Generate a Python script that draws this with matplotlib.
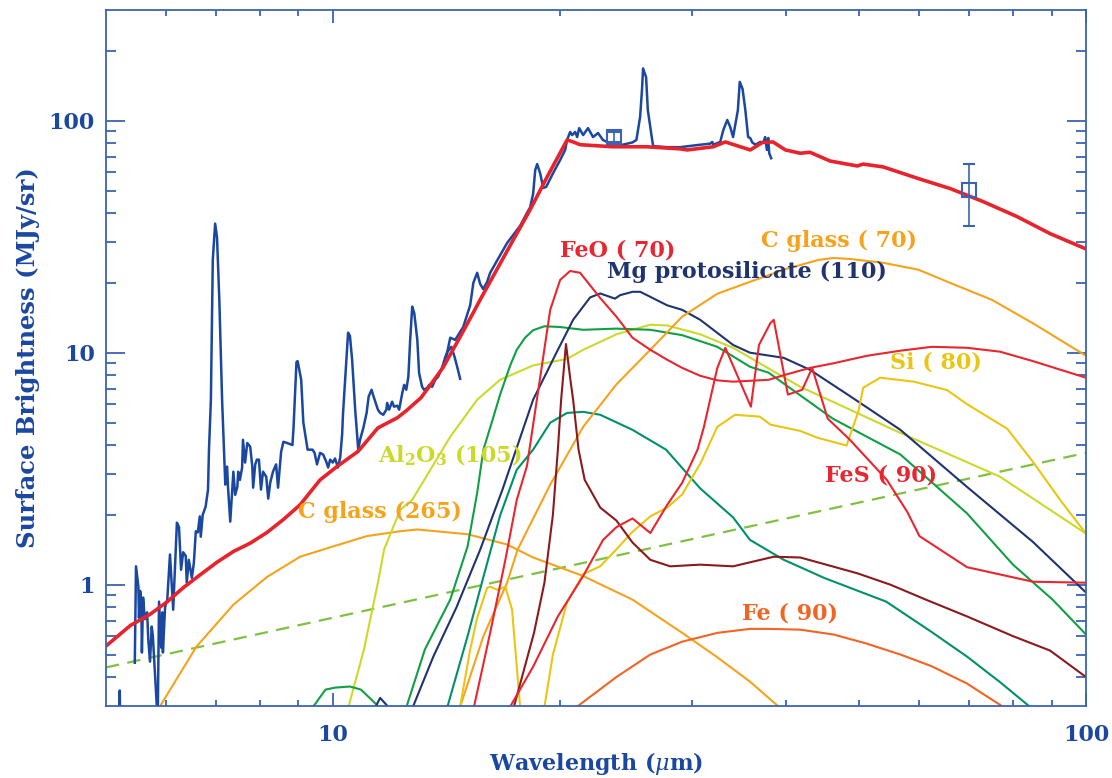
import matplotlib
matplotlib.use("Agg")
import matplotlib.pyplot as plt
from matplotlib.ticker import FixedLocator, NullFormatter, FuncFormatter

plt.rcParams['font.family'] = ['DejaVu Serif']
plt.rcParams['mathtext.fontset'] = 'dejavuserif'

# ---------------- data (wavelength in micron, surface brightness in MJy/sr) ----------------
# IRS spectrum, short-wavelength piece
irs_tick_wl = [5.21, 5.215, 5.22]
irs_tick_f = [0.25, 0.35, 0.25]
irs1_wl = [5.46, 5.48, 5.52, 5.53, 5.55, 5.57, 5.58, 5.60, 5.63, 5.67, 5.69, 5.72, 5.75, 5.77, 5.81,
           5.84, 5.85, 5.86, 5.88, 5.92, 5.94, 5.95, 5.99, 6.03, 6.08, 6.14, 6.18, 6.21, 6.25, 6.29,
           6.33, 6.38, 6.40, 6.44, 6.50, 6.54, 6.58, 6.62, 6.66, 6.68, 6.72, 6.78, 6.83, 6.85, 6.89,
           6.93, 6.98, 7.02, 7.07, 7.13, 7.20, 7.24, 7.26, 7.31, 7.35, 7.38, 7.42, 7.47, 7.49, 7.53,
           7.58, 7.60, 7.65, 7.70, 7.77, 7.82, 7.84, 7.89, 7.93, 7.98, 8.03, 8.08, 8.16, 8.21, 8.26,
           8.33, 8.41, 8.46, 8.54, 8.60, 8.70, 8.84, 8.87, 8.95, 8.98, 9.00, 9.08, 9.14, 9.26, 9.40,
           9.46, 9.53, 9.62, 9.71, 9.80, 9.86, 9.92, 10.0, 10.07, 10.16, 10.23, 10.29, 10.32, 10.42,
           10.48, 10.54, 10.61, 10.71, 10.81, 10.87, 10.98, 11.09, 11.16, 11.26, 11.33, 11.48, 11.56,
           11.67, 11.78, 11.81, 11.88, 11.99, 12.06, 12.18, 12.25, 12.37, 12.44, 12.52, 12.60, 12.67,
           12.75, 12.83, 12.95, 13.02, 13.14, 13.22, 13.35, 13.43, 13.55, 13.68, 13.80, 13.98, 14.11,
           14.20, 14.37, 14.51, 14.64, 14.76]
irs1_f = [0.461, 1.20, 0.98, 0.72, 0.94, 0.85, 0.51, 0.88, 0.71, 0.76, 0.58, 0.466, 0.66, 0.60, 0.40,
          0.30, 0.28, 0.31, 0.845, 0.535, 0.76, 0.51, 0.80, 0.862, 1.35, 0.78, 1.28, 1.85, 1.77, 1.16,
          1.38, 1.33, 1.02, 1.28, 1.07, 1.24, 1.70, 1.68, 1.97, 1.61, 2.0, 2.17, 2.57, 3.82, 6.27,
          25.1, 36.0, 31.5, 16.9, 6.27, 2.70, 3.23, 2.64, 1.87, 2.49, 3.07, 2.44, 2.64, 3.07, 2.83,
          3.20, 4.21, 3.36, 4.08, 3.93, 3.23, 2.62, 3.30, 3.46, 3.46, 2.57, 3.07, 2.92, 2.35, 2.75,
          3.07, 3.30, 2.62, 3.74, 4.13, 4.08, 4.0, 4.75, 9.1, 9.2, 8.9, 7.64, 5.0, 3.82, 3.82,
          3.70, 3.30, 3.70, 3.64, 3.40, 3.20, 3.46, 3.36, 3.50, 3.20, 3.53, 4.43, 5.50, 9.0,
          12.2, 11.8, 9.32, 5.68, 3.82, 4.21, 4.74, 5.5, 6.47, 6.92, 6.47, 5.68, 5.50,
          5.40, 5.68, 6.07, 5.68, 6.15, 5.85, 5.91, 5.68, 6.72, 7.27, 6.92, 7.87, 11.36,
          15.8, 14.8, 11.36, 8.18, 7.13, 6.92, 7.06, 7.27, 7.13, 7.64, 7.87, 8.7, 9.6,
          10.1, 10.6, 9.6, 8.6, 7.72]
# IRS spectrum, long-wavelength piece
irs2_wl = [14.15, 14.32, 14.54, 14.90, 15.22, 15.37, 15.55, 15.69, 15.84, 16.03, 16.18, 16.33, 16.68,
           17.04, 17.73, 18.11, 18.28, 18.45, 18.57, 18.68, 18.85, 19.03, 19.20, 19.61, 20.04, 20.35,
           20.47, 20.66, 20.79, 20.98, 21.11, 21.24, 21.50, 21.82, 22.16, 22.50, 22.84, 23.19, 23.54,
           23.90, 24.26, 25.0, 25.3, 25.59, 25.74, 25.82, 26.06, 26.2, 26.55, 26.63, 27.8, 28.93,
           30.75, 31.7, 31.9, 32.0, 32.69, 33.0, 33.4, 33.7, 34.0, 34.5, 34.7, 35.0, 35.3, 35.6,
           35.83, 36.05, 36.4, 36.94, 37.3, 37.5, 37.7, 37.85, 37.97, 38.2]
irs2_f = [9.6, 11.6, 11.36, 12.9, 16.0, 20.0, 22.1, 19.8, 18.8, 20.2, 22.1, 23.3, 26.3,
          29.7, 35.2, 40.1, 42.3, 48.3, 61.3, 65.0, 59.4, 51.3, 51.8, 59.4, 67.7, 74.8,
          82.6, 89.4, 86.7, 89.4, 85.0, 92.9, 86.7, 92.9, 85.0, 88.5, 82.6, 80.6, 78.8,
          78.8, 78.8, 80.6, 82.6, 104, 137, 168, 154, 111, 82.6, 77.7, 76.9, 76.9,
          78.8, 79.6, 81.0, 78.8, 81.0, 91.2, 100.7, 94.0, 85.0, 111, 147, 137, 111, 85.0,
          84.2, 80.6, 78.8, 81.0, 80.6, 85.0, 74.8, 84.2, 72.4, 68.9]

# photometry (MIPS 24 and 70 micron)
phot_wl = [23.6, 70.0]
phot_f = [85.0, 50.3]
phot_err = [4.0, 15.0]

# total model
total_wl = [5.02, 5.39, 5.72, 6.03, 6.33, 6.66, 7.02, 7.38, 7.77, 8.18, 8.60, 9.05, 9.62, 10.13, 10.81,
            11.48, 12.18, 12.52, 13.1, 14.0, 14.76, 15.37, 15.69, 17.36, 18.28, 19.25, 20.47, 20.85,
            21.3, 23.54, 26.1, 28.93, 29.55, 32.0, 33.2, 35.83, 37.2, 38.4, 39.9, 41.75, 43.0, 45.75,
            49.7, 50.6, 53.8, 59.9, 66.0, 72.9, 81.0, 89.6, 100]
total_f = [0.55, 0.668, 0.745, 0.845, 0.97, 1.10, 1.25, 1.39, 1.51, 1.68, 1.91, 2.21, 2.83, 3.23, 3.76,
           4.74, 5.24, 5.62, 6.4, 8.6, 11.7, 14.9, 16.9, 30.6, 41.3, 57.1, 82.6, 81.0,
           78.8, 77.2, 77.2, 75.6, 74.8, 77.2, 81.0, 74.8, 80.6, 81.0, 74.8, 72.4, 73.1, 67.0,
           63.8, 65.0, 63.2, 56.3, 51.0, 44.9, 38.6, 32.6, 28.0]

# power-law (dashed) component
pl_wl = [5.0, 100.0]
pl_f = [0.44, 3.7]

# dust components
cglass265_wl = [5.9, 6.59, 7.38, 8.18, 9.05, 10.0, 11.1, 12.29, 12.94, 15.1, 17.04, 18.45, 21.5, 25.0,
                29.1, 32.3, 35.8, 39.0]
cglass265_f = [0.30, 0.54, 0.82, 1.08, 1.32, 1.46, 1.62, 1.70, 1.73, 1.65, 1.49, 1.31, 1.09, 0.862,
               0.62, 0.49, 0.382, 0.30]

al2o3_wl = [10.5, 11.0, 11.48, 11.7, 12.29, 12.75, 14.32, 15.55, 16.68, 18.45, 20.47, 21.5, 23.8, 26.39,
            27.8, 30.75, 34.0, 41.75, 56.7, 76.9, 100]
al2o3_f = [0.30, 0.525, 1.02, 1.42, 2.10, 2.32, 4.34, 6.27, 7.64, 8.81, 9.4, 10.29, 12.0, 13.2,
           13.1, 12.0, 10.5, 7.13, 4.51, 2.92, 1.66]

green_wl = [9.42, 9.78, 10.07, 10.54, 10.9, 11.25, 11.48, 11.56, 12.3, 12.53, 13.25, 14.32, 15.1, 15.55,
            15.85, 16.3, 16.68, 17.2, 17.55, 18.0, 18.45, 19.1, 20.04, 21.5, 23.8, 26.4, 29.1, 32.4,
            35.8, 37.9, 46.1, 56.7, 69.5, 80.0, 90.3, 100]
green_f = [0.298, 0.353, 0.36, 0.364, 0.353, 0.32, 0.30, 0.26, 0.26, 0.298, 0.525, 0.862, 1.46, 2.49,
           3.82, 5.14, 6.6, 8.8, 10.29, 11.6, 12.5, 13.0, 12.9, 12.55, 12.7, 12.55, 11.9, 10.6,
           8.7, 8.2, 5.2, 3.64, 2.03, 1.22, 0.862, 0.61]

teal_wl = [14.2, 15.1, 15.85, 16.68, 17.55, 18.45, 19.44, 20.47, 21.5, 22.65, 25.0, 27.7, 30.75, 34.0,
           35.8, 39.7, 41.75, 44.9, 54.3, 62.4, 69.5, 76.9, 84.0]
teal_f = [0.298, 0.60, 1.08, 1.99, 3.13, 3.82, 4.99, 5.5, 5.56, 5.40, 4.65, 3.82, 2.6, 1.95,
          1.56, 1.28, 1.19, 1.07, 0.845, 0.625, 0.49, 0.38, 0.30]

mgproto_wl = [11.4, 11.56, 11.82, 12.1, 12.5, 12.78, 13.6, 14.6, 15.7, 16.8, 18.45, 19.9, 20.85, 21.96,
              22.65, 23.7, 24.07, 25.0, 25.6, 27.8, 29.1, 30.75, 34.0, 35.8, 39.7, 43.0, 48.6, 56.7,
              69.5, 85.0, 100]
mgproto_f = [0.298, 0.325, 0.30, 0.26, 0.26, 0.298, 0.49, 0.80, 1.42, 2.57, 6.27, 10.29, 13.86, 17.3,
             18.0, 17.1, 17.7, 18.3, 18.3, 16.0, 15.3, 13.86, 10.8, 10.0, 9.5, 8.44, 6.5, 4.65,
             2.64, 1.53, 0.925]

feo_wl = [15.4, 16.18, 16.95, 17.55, 18.11, 18.85, 19.44, 20.04, 20.66, 21.3, 22.65, 23.8, 25.0, 26.4,
          27.8, 29.1, 30.75, 32.4, 34.0, 37.9, 39.7, 43.0, 46.2, 51.2, 56.7, 62.4, 69.5, 76.9, 85.0,
          100]
feo_f = [0.298, 0.62, 1.28, 2.32, 3.26, 7.8, 15.3, 20.6, 22.5, 22.1, 17.2, 14.3, 11.6, 10.29,
         9.32, 8.6, 7.95, 7.6, 7.5, 7.64, 8.0, 8.6, 9.0, 9.7, 10.2, 10.6, 10.5, 10.1, 9.2,
         7.8]

fes_wl = [17.2, 18.45, 19.9, 21.5, 22.85, 23.8, 25.0, 26.4, 27.8, 29.1, 30.5, 31.1, 32.4, 33.2, 35.9,
          36.8, 38.1, 38.5, 40.2, 42.0, 43.3, 45.4, 48.6, 54.4, 57.9, 60.1, 69.5, 85.0, 100]
fes_f = [0.298, 0.443, 0.73, 1.09, 1.56, 1.77, 1.93, 1.67, 2.21, 2.75, 3.82, 4.79, 8.6, 10.5, 5.85,
         10.8, 13.4, 13.86, 6.6, 6.92, 8.6, 5.2, 4.21, 2.83, 2.06, 1.62, 1.19, 1.03, 1.02]

si_wl = [14.76, 15.22, 15.55, 16.03, 16.18, 16.55, 16.95, 17.3, 17.73, 18.3, 18.85, 19.1, 19.6, 20.47,
         21.5, 22.65, 23.8, 25.0, 26.4, 27.8, 29.1, 30.75, 32.4, 34.2, 36.9, 38.1, 41.75, 44.0, 48.1,
         49.9, 50.6, 53.3, 59.1, 65.4, 69.5, 78.6, 85.0, 92.4, 100]
si_f = [0.298, 0.525, 0.72, 0.97, 0.98, 0.95, 0.98, 0.78, 0.298, 0.25, 0.25, 0.298, 0.50, 0.84,
        1.11, 1.2, 1.42, 1.69, 1.97, 2.15, 2.45, 3.32, 4.79, 5.4, 5.3, 4.9, 4.6, 4.3, 3.98,
        5.62, 7.06, 7.8, 7.5, 6.9, 6.0, 4.7, 3.39, 2.32, 1.66]

cglass70_wl = [14.76, 15.85, 17.04, 17.6, 19.44, 21.5, 23.8, 26.4, 29.1, 32.4, 35.8, 39.7, 44.1, 46.2,
               48.6, 53.8, 59.9, 66.0, 75.0, 85.0, 100]
cglass70_f = [0.298, 0.60, 1.02, 1.42, 2.7, 4.79, 7.3, 10.29, 14.3, 17.95, 20.2, 22.8, 25.1, 25.6,
              25.35, 24.4, 22.8, 20.0, 16.9, 13.4, 9.7]

fe_wl = [21.1, 23.8, 26.4, 29.1, 32.4, 35.8, 37.9, 41.75, 46.2, 50.9, 56.7, 62.4, 69.5, 77.3]
fe_f = [0.298, 0.40, 0.50, 0.568, 0.62, 0.645, 0.645, 0.64, 0.61, 0.56, 0.50, 0.445, 0.375, 0.30]

maroon_wl = [17.4, 18.5, 19.1, 19.6, 19.9, 20.1, 20.4, 20.66, 20.85, 21.2, 21.6, 22.65, 23.8, 25.0,
             26.4, 28.05, 30.75, 34.0, 38.5, 41.75, 45.2, 49.7, 55.0, 61.3, 69.5, 80.0, 89.6, 100]
maroon_f = [0.298, 0.62, 1.02, 2.0, 3.82, 6.27, 10.9, 7.8, 6.27, 3.82, 2.83, 2.15, 1.89, 1.52,
            1.28, 1.20, 1.22, 1.20, 1.32, 1.31, 1.22, 1.12, 1.0, 0.862, 0.73, 0.60, 0.52, 0.40]

x_major = [10, 100]
x_minor = [6, 7, 8, 9, 20, 30, 40, 50, 60, 70, 80, 90]
y_major = [1, 10, 100]
y_minor = [0.4, 0.5, 0.6, 0.7, 0.8, 0.9, 2, 3, 4, 5, 6, 7, 8, 9, 20, 30, 40, 50, 60, 70, 80, 90, 200]

# ---------------- colours ----------------
C_AXIS = '#3a63b4'
C_TXT = '#1a47a0'
C_SPEC = '#1a47a0'
C_TOTAL = '#e8232b'
C_RED = '#e82630'
C_NAVY = '#1f336f'
C_ORANGE = '#f5a31c'
C_YG = '#cbd92a'
C_YEL = '#eac514'
C_GREEN = '#10a044'
C_TEAL = '#00906a'
C_MAROON = '#8a1a1e'
C_FE = '#f26424'
C_DASH = '#80c040'

fig = plt.figure(figsize=(11.12, 7.78), dpi=100)
ax = fig.add_axes([106 / 1112, 72 / 778, 980 / 1112, 696 / 778])
ax.set_xscale('log')
ax.set_yscale('log')
ax.set_xlim(5, 100)
ax.set_ylim(0.3, 300)

lw = 1.5
ax.plot(pl_wl, pl_f, color=C_DASH, lw=1.6, dashes=(6, 3.8))
ax.plot(cglass265_wl, cglass265_f, color=C_ORANGE, lw=lw)
ax.plot(al2o3_wl, al2o3_f, color=C_YG, lw=lw)
ax.plot(green_wl, green_f, color=C_GREEN, lw=lw)
ax.plot(teal_wl, teal_f, color=C_TEAL, lw=lw)
ax.plot(mgproto_wl, mgproto_f, color=C_NAVY, lw=lw)
ax.plot(cglass70_wl, cglass70_f, color=C_ORANGE, lw=lw)
ax.plot(si_wl, si_f, color=C_YEL, lw=lw)
ax.plot(fe_wl, fe_f, color=C_FE, lw=lw)
ax.plot(maroon_wl, maroon_f, color=C_MAROON, lw=lw)
ax.plot(feo_wl, feo_f, color=C_RED, lw=lw)
ax.plot(fes_wl, fes_f, color=C_RED, lw=lw)

ax.plot(irs_tick_wl, irs_tick_f, color=C_SPEC, lw=1.8)
ax.plot(irs1_wl, irs1_f, color=C_SPEC, lw=1.8)
ax.plot(irs2_wl, irs2_f, color=C_SPEC, lw=1.8)
ax.plot(total_wl, total_f, color=C_TOTAL, lw=2.6)
ax.errorbar(phot_wl, phot_f, yerr=phot_err, fmt='s', mfc='none', mec=C_AXIS, ms=10.5, mew=1.5,
            ecolor=C_AXIS, elinewidth=1.2, capsize=4, capthick=1.2)

# component labels
tk = dict(fontsize=16, fontweight='bold', va='center', ha='left')
ax.text(20.0, 27.6, 'FeO ( 70)', color=C_RED, **tk)
ax.text(23.1, 22.2, 'Mg protosilicate (110)', color=C_NAVY, **tk)
ax.text(37.0, 30.3, 'C glass ( 70)', color=C_ORANGE, **tk)
ax.text(55.0, 9.1, 'Si ( 80)', color=C_YEL, **tk)
ax.text(45.0, 2.95, 'FeS ( 90)', color=C_RED, **tk)
ax.text(34.9, 0.75, 'Fe ( 90)', color=C_FE, **tk)
ax.text(11.5, 3.6, r'Al$_{\mathbf{2}}$O$_{\mathbf{3}}$ (105)', color=C_YG, **tk)
ax.text(9.0, 2.05, 'C glass (265)', color=C_ORANGE, **tk)

# axes styling
for s in ax.spines.values():
    s.set_color(C_AXIS)
    s.set_linewidth(1.3)
ax.xaxis.set_major_locator(FixedLocator(x_major))
ax.xaxis.set_minor_locator(FixedLocator(x_minor))
ax.yaxis.set_major_locator(FixedLocator(y_major))
ax.yaxis.set_minor_locator(FixedLocator(y_minor))
fmt = FuncFormatter(lambda v, p: '%d' % round(v))
ax.xaxis.set_major_formatter(fmt)
ax.yaxis.set_major_formatter(fmt)
ax.xaxis.set_minor_formatter(NullFormatter())
ax.yaxis.set_minor_formatter(NullFormatter())
ax.tick_params(axis='both', which='both', direction='in', color=C_AXIS, width=1.3,
               labelcolor=C_TXT, labelsize=16)
ax.tick_params(axis='x', which='major', length=9.5, top=True, pad=13)
ax.tick_params(axis='x', which='minor', length=4.5, top=True)
ax.tick_params(axis='y', which='major', length=13.5, right=True, pad=8)
ax.tick_params(axis='y', which='minor', length=7, right=True)
for lab in ax.get_xticklabels() + ax.get_yticklabels():
    lab.set_fontweight('bold')

ax.set_xlabel(r'Wavelength ($\mu$m)', color=C_TXT, fontsize=16, fontweight='bold', labelpad=2.5)
ax.set_ylabel('Surface Brightness (MJy/sr)', color=C_TXT, fontsize=17.5, fontweight='bold', labelpad=6)

fig.savefig('out.png', dpi=100)
